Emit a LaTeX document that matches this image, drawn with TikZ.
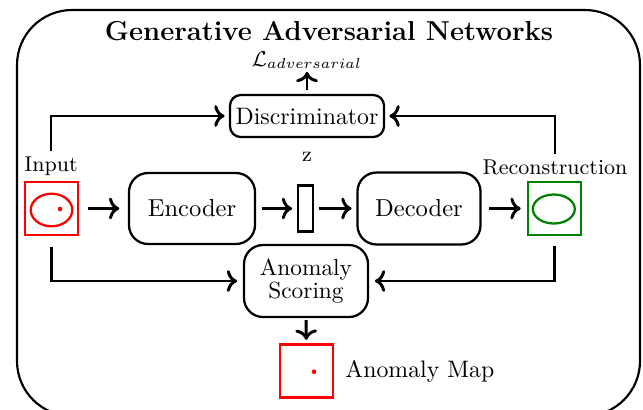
\documentclass[tikz,border=0pt]{standalone}
\usetikzlibrary{arrows.meta,shapes.geometric}
\def\pxu{0.42pt}
\begin{document}
\begin{tikzpicture}[x=0.42pt,y=-0.42pt,
  blockbox/.style={draw,line width=0.95pt,rounded corners=8pt,align=center,inner sep=1pt},
  imgbox/.style={draw,line width=0.95pt,minimum width=53*\pxu,minimum height=53*\pxu,inner sep=0pt},
  conn/.style={->,line width=1.25pt},
  lbl/.style={font=\small,inner sep=2pt}]
\path[use as bounding box] (0,0) rectangle (643,409);
\begin{scope}
\clip (0,0) rectangle (643,409);
% outer frame
\draw[line width=0.9pt,rounded corners=55*\pxu] (17,10) rectangle (640,416);
\end{scope}

% title and loss
\node[font=\bfseries\fontsize{11.5}{13}\selectfont,inner sep=0pt] (title) at (329,31) {Generative Adversarial Networks};
\node[font=\small,inner sep=0pt] (loss) at (307,60) {$\mathcal{L}_{adversarial}$};

% main blocks
\node[blockbox,rounded corners=4.5pt,minimum width=154*\pxu,minimum height=42*\pxu] (disc) at (307,116) {Discriminator};
\node[blockbox,minimum width=126*\pxu,minimum height=71*\pxu,font=\fontsize{10.3}{12}\selectfont] (enc) at (192,208.5) {Encoder};
\node[draw,line width=0.95pt,minimum width=15*\pxu,minimum height=46*\pxu,inner sep=0pt] (zvec) at (305.5,208.5) {};
\node[blockbox,minimum width=123*\pxu,minimum height=72*\pxu,font=\fontsize{10.3}{12}\selectfont] (dec) at (419,208.5) {Decoder};
\node[blockbox,minimum width=124*\pxu,minimum height=72*\pxu,font=\fontsize{9.8}{7.6}\selectfont] (score) at (306,281) {Anomaly\\Scoring};

% input image
\node[imgbox,red] (input) at (51.7,208.5) {};
\draw[red,line width=0.95pt] (51.5,210) ellipse [x radius=20.8*\pxu, y radius=16.3*\pxu];
\fill[red] (60,209) circle [radius=2.3*\pxu];
\node[lbl] (inlab) at (51,166) {Input};

% reconstruction image
\node[imgbox,draw=green!50!black] (recon) at (554.3,208.5) {};
\draw[green!50!black,line width=0.95pt] (553.8,209) ellipse [x radius=21*\pxu, y radius=14.5*\pxu];
\node[lbl] (reclab) at (555,167) {Reconstruction};

% latent code label
\node[lbl] (zlab) at (307,157) {z};

% anomaly map
\node[imgbox,red] (map) at (306.3,371) {};
\fill[red] (314,371.7) circle [radius=2.3*\pxu];
\node[anchor=west,inner sep=0pt] (maplab) at (345,371) {Anomaly Map};

% connectors
\draw[conn,shorten <=1.6pt,shorten >=1.2pt] (disc.north) -- (loss.south);
\draw[conn,shorten <=3.6pt,shorten >=3.6pt] (input) -- (enc);
\draw[conn,shorten <=2.4pt,shorten >=2pt] (enc) -- (zvec);
\draw[conn,shorten <=2pt,shorten >=2pt] (zvec) -- (dec);
\draw[conn,shorten <=3.2pt,shorten >=2.5pt] (dec) -- (recon);
\draw[conn,shorten <=0.8pt,shorten >=1.5pt] (score.south) -- (map.north);
\draw[conn,shorten >=1.8pt] (inlab.north) |- (disc.west);
\draw[conn,shorten >=1.8pt] (reclab.north) |- (disc.east);
\draw[conn,shorten <=4.6pt,shorten >=2.4pt] (input.south) |- (score.west);
\draw[conn,shorten <=4pt,shorten >=2.4pt] (recon.south) |- (score.east);
\end{tikzpicture}
\end{document}
